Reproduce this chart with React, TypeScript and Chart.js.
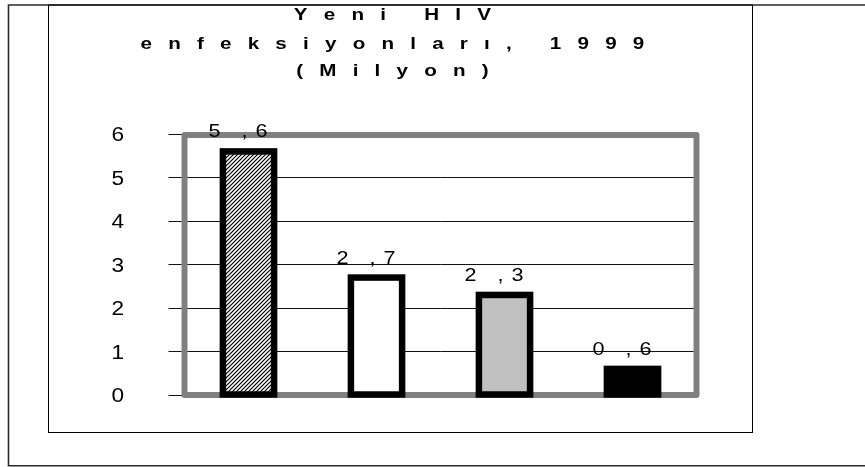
import React, { useEffect, useRef } from 'react';
import { Chart, registerables } from 'chart.js';

Chart.register(...registerables);

// ---- data ----
const categories = ['Toplam', 'Erkek', 'Kadın', 'Çocuk'];
const values = [5.6, 2.7, 2.3, 0.6];
const yTicks = [0, 1, 2, 3, 4, 5, 6];
const titleLines = ['Yeni HIV', 'enfeksiyonları, 1999', '(Milyon)'];

// ---- styles ----
const barFills = ['hatch', '#ffffff', '#c0c0c0', '#000000'];
const FONT = '"Liberation Sans", Arial, sans-serif';

function makeHatch(ctx: CanvasRenderingContext2D): CanvasPattern | string {
  const c = document.createElement('canvas');
  c.width = 4;
  c.height = 4;
  const g = c.getContext('2d');
  if (!g) return '#666';
  g.fillStyle = '#ffffff';
  g.fillRect(0, 0, 4, 4);
  g.strokeStyle = '#000000';
  g.lineWidth = 1.2;
  g.beginPath();
  g.moveTo(-1, 5);
  g.lineTo(5, -1);
  g.moveTo(-1, 1);
  g.lineTo(1, -1);
  g.moveTo(3, 5);
  g.lineTo(5, 3);
  g.stroke();
  return ctx.createPattern(c, 'repeat') || '#666';
}

function drawStretched(
  ctx: CanvasRenderingContext2D,
  text: string,
  x: number,
  y: number,
  sx: number,
  align: CanvasTextAlign
) {
  ctx.save();
  ctx.translate(x, y);
  ctx.scale(sx, 1);
  ctx.textAlign = align;
  ctx.textBaseline = 'alphabetic';
  ctx.fillText(text, 0, 0);
  ctx.restore();
}

const decorPlugin = {
  id: 'decor',
  beforeDraw(chart: any) {
    const { ctx, width } = chart;
    ctx.save();
    // outer box
    ctx.strokeStyle = '#2b2b2b';
    ctx.lineWidth = 1.6;
    ctx.beginPath();
    ctx.moveTo(width + 2, 5);
    ctx.lineTo(8.5, 5);
    ctx.lineTo(8.5, 465.7);
    ctx.lineTo(width + 2, 465.7);
    ctx.stroke();
    // inner box
    ctx.strokeStyle = '#000000';
    ctx.lineWidth = 1;
    ctx.strokeRect(48.5, 5, 704, 427.5);
    // title with spaced, widened letters
    ctx.fillStyle = '#000000';
    ctx.font = 'bold 16.5px ' + FONT;
    const sx = 1.25;
    const ls = 16.2;
    const baselines = [20, 49, 76];
    titleLines.forEach((line, i) => {
      const chars = Array.from(line);
      let w = 0;
      chars.forEach((ch) => {
        w += ctx.measureText(ch).width * sx + ls;
      });
      let x = 400.5 - w / 2;
      chars.forEach((ch) => {
        drawStretched(ctx, ch, x, baselines[i], sx, 'left');
        x += ctx.measureText(ch).width * sx + ls;
      });
    });
    ctx.restore();
  },
  beforeDatasetsDraw(chart: any) {
    const { ctx, chartArea: a } = chart;
    ctx.save();
    ctx.strokeStyle = '#808080';
    ctx.lineWidth = 6;
    ctx.lineJoin = 'round';
    ctx.strokeRect(a.left, a.top + 1, a.right - a.left, a.bottom - a.top - 1);
    ctx.restore();
  },
  afterDatasetsDraw(chart: any) {
    const { ctx } = chart;
    const meta = chart.getDatasetMeta(0);
    const yScale = chart.scales.y;
    ctx.save();
    // bar outlines, centred on the bar edges
    meta.data.forEach((bar: any) => {
      const { x, y, base, width } = bar.getProps(['x', 'y', 'base', 'width'], true);
      ctx.strokeStyle = '#000000';
      ctx.lineWidth = 6.5;
      ctx.lineJoin = 'miter';
      ctx.strokeRect(x - width / 2, y, width, base - y);
    });
    // y tick labels
    ctx.fillStyle = '#000000';
    ctx.font = '19.5px ' + FONT;
    yTicks.forEach((v) => {
      const py = yScale.getPixelForValue(v);
      drawStretched(ctx, String(v), 124, py + 7, 1.16, 'right');
    });
    // value labels "5 , 6"
    ctx.font = '18px ' + FONT;
    meta.data.forEach((bar: any, i: number) => {
      const { x, y } = bar.getProps(['x', 'y'], true);
      const [ip, dp] = values[i].toFixed(1).split('.');
      const by = y - 14;
      drawStretched(ctx, ip, x - 40, by, 1.2, 'left');
      drawStretched(ctx, ',', x - 7, by, 1.2, 'left');
      drawStretched(ctx, dp, x + 7, by, 1.2, 'left');
    });
    ctx.restore();
  },
};

export default function App() {
  const ref = useRef<HTMLCanvasElement | null>(null);

  useEffect(() => {
    const canvas = ref.current;
    if (!canvas) return;
    const ctx = canvas.getContext('2d');
    if (!ctx) return;
    const hatch = makeHatch(ctx);
    const bg = barFills.map((f) => (f === 'hatch' ? hatch : f));

    const chart = new Chart(canvas, {
      type: 'bar',
      data: {
        labels: categories,
        datasets: [
          {
            data: values,
            backgroundColor: bg as any,
            borderWidth: 0,
            barPercentage: 0.4,
            categoryPercentage: 1,
          },
        ],
      },
      options: {
        animation: false,
        responsive: false,
        devicePixelRatio: 1,
        layout: { padding: { left: 0, right: 168.5, top: 134, bottom: 72 } },
        plugins: {
          legend: { display: false },
          title: { display: false },
          tooltip: { enabled: false },
        },
        scales: {
          x: { display: false },
          y: {
            min: 0,
            max: 6,
            afterFit: (s: any) => {
              s.width = 184.5;
            },
            afterBuildTicks: (s: any) => {
              s.ticks = yTicks.map((v) => ({ value: v }));
            },
            border: { display: false },
            grid: {
              color: '#111111',
              lineWidth: 1,
              drawTicks: true,
              tickLength: 16,
            },
            ticks: { display: false },
          },
        },
      },
      plugins: [decorPlugin],
    });
    return () => chart.destroy();
  }, []);

  return (
    <div style={{ position: 'fixed', left: 0, top: 0, width: 865, height: 467, background: '#fff' }}>
      <canvas ref={ref} width={865} height={467} style={{ width: 865, height: 467, display: 'block' }} />
    </div>
  );
}
